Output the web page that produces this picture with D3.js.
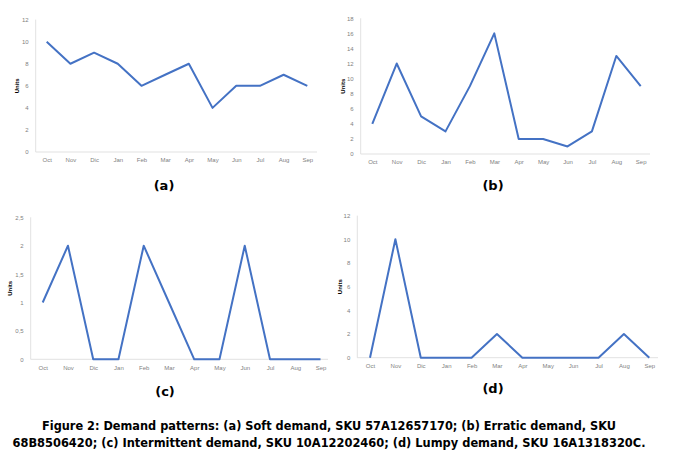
<!DOCTYPE html>
<html>
<head>
<meta charset="utf-8">
<script src="https://cdn.jsdelivr.net/npm/d3@7"></script>
<style>
  body { margin: 0; background: #fff; }
  svg { display: block; }
  .tick text { font-family: "Liberation Sans", Arial, sans-serif; font-size: 6px; fill: #7f7f7f; }
</style>
</head>
<body>
<script>
// months on every panel
const months = ["Oct", "Nov", "Dic", "Jan", "Feb", "Mar", "Apr", "May", "Jun", "Jul", "Aug", "Sep"];

// demand per SKU
const softDemand = [10, 8, 9, 8, 6, 7, 8, 4, 6, 6, 7, 6];
const erraticDemand = [4, 12, 5, 3, 9, 16, 2, 2, 1, 3, 13, 9];
const intermittentDemand = [1, 2, 0, 0, 2, 1, 0, 0, 2, 0, 0, 0];
const lumpyDemand = [0, 10, 0, 0, 0, 2, 0, 0, 0, 0, 2, 0];

// y tick labels
const ticksA = [0, 2, 4, 6, 8, 10, 12];
const ticksB = [0, 2, 4, 6, 8, 10, 12, 14, 16, 18];
const ticksC = [0, 0.5, 1, 1.5, 2, 2.5];
const ticksD = [0, 2, 4, 6, 8, 10, 12];

const captionLines = [
  "Figure 2: Demand patterns: (a) Soft demand, SKU 57A12657170; (b) Erratic demand, SKU",
  "68B8506420; (c) Intermittent demand, SKU 10A12202460; (d) Lumpy demand, SKU 16A1318320C."
];

const W = 673, H = 455;
const svg = d3.select("body").append("svg").attr("width", W).attr("height", H);

const panels = [
  { label: "(a)", values: softDemand, ticks: ticksA, max: 12,
    axisX: [35.7, 317], first: 46.7, last: 307.3, top: 19.6, base: 152,
    unitsX: 17, capX: 164, capY: 190 },
  { label: "(b)", values: erraticDemand, ticks: ticksB, max: 18,
    axisX: [360.7, 650], first: 372.3, last: 640.7, top: 18.3, base: 154,
    unitsX: 342.5, capX: 493, capY: 190 },
  { label: "(c)", values: intermittentDemand, ticks: ticksC, max: 2.5,
    axisX: [30.7, 328], first: 42.7, last: 320.5, top: 217.3, base: 359.3,
    unitsX: 10, capX: 165, capY: 396 },
  { label: "(d)", values: lumpyDemand, ticks: ticksD, max: 12,
    axisX: [357.3, 658], first: 370, last: 649.3, top: 215.6, base: 357.7,
    unitsX: 339.5, capX: 493, capY: 393 }
];

const commaFmt = d => String(d).replace(".", ",");

panels.forEach(p => {
  const x = d3.scalePoint().domain(months).range([p.first, p.last]);
  const y = d3.scaleLinear().domain([0, p.max]).range([p.base, p.top]);
  const g = svg.append("g");

  // axis lines
  g.append("line")
    .attr("x1", p.axisX[0]).attr("x2", p.axisX[0])
    .attr("y1", p.top).attr("y2", p.base)
    .attr("stroke", "#d9d9d9").attr("stroke-width", 0.8);
  g.append("line")
    .attr("x1", p.axisX[0]).attr("x2", p.axisX[1])
    .attr("y1", p.base).attr("y2", p.base)
    .attr("stroke", "#d9d9d9").attr("stroke-width", 0.8);

  const yAxis = g.append("g")
    .attr("transform", "translate(" + p.axisX[0] + ",0)")
    .call(d3.axisLeft(y).tickValues(p.ticks).tickSize(0).tickPadding(7).tickFormat(commaFmt));
  yAxis.select(".domain").remove();

  const xAxis = g.append("g")
    .attr("transform", "translate(0," + p.base + ")")
    .call(d3.axisBottom(x).tickSize(0).tickPadding(6));
  xAxis.select(".domain").remove();

  // demand line
  g.append("path")
    .datum(p.values)
    .attr("fill", "none")
    .attr("stroke", "#4472c4")
    .attr("stroke-width", 2)
    .attr("stroke-linejoin", "round")
    .attr("d", d3.line().x((d, i) => x(months[i])).y(d => y(d)));

  // y title
  g.append("text")
    .attr("transform", "translate(" + p.unitsX + "," + ((p.top + p.base) / 2) + ") rotate(-90)")
    .attr("text-anchor", "middle")
    .attr("dy", "0.35em")
    .style("font-family", "Liberation Sans, Arial, sans-serif")
    .style("font-size", "6px")
    .style("font-weight", "bold")
    .attr("fill", "#000")
    .text("Units");

  // panel letter
  g.append("text")
    .attr("x", p.capX).attr("y", p.capY)
    .attr("text-anchor", "middle")
    .style("font-family", "DejaVu Sans, sans-serif")
    .style("font-size", "13px")
    .style("font-weight", "bold")
    .attr("fill", "#000")
    .text(p.label);
});

// figure caption
const capWidths = [574, 633];
const capY = [429.5, 446.5];
captionLines.forEach((t, i) => {
  svg.append("text")
    .attr("x", 329).attr("y", capY[i])
    .attr("text-anchor", "middle")
    .attr("textLength", capWidths[i])
    .attr("lengthAdjust", "spacingAndGlyphs")
    .style("font-family", "DejaVu Sans Condensed, DejaVu Sans, sans-serif")
    .style("font-size", "11.5px")
    .style("font-weight", "bold")
    .attr("fill", "#000")
    .text(t);
});
</script>
</body>
</html>
